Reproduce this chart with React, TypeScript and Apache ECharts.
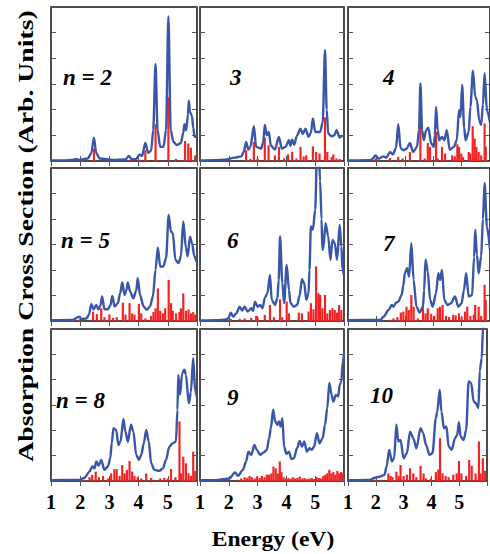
import React, { useEffect, useRef } from "react";
import * as echarts from "echarts";

type P = [number, number];

const panelLabels = ["n = 2", "3", "4", "n = 5", "6", "7", "n = 8", "9", "10"];
const xTitle = "Energy (eV)";
const yTitle = "Absorption Cross Section (Arb. Units)";
const xMin = 1;
const xMax = 6;
const yMin = 0;
const yMax = 6;

// n = 2
const blueN2: P[] = [[1.0,0.02],[1.41,0.02],[1.75,0.04],[1.84,0.08],[1.96,0.04],[2.26,0.1],[2.38,0.3],[2.47,0.91],[2.55,0.3],[2.67,0.1],[3.12,0.04],[3.55,0.06],[3.67,0.2],[3.76,0.07],[3.92,0.08],[4.03,0.25],[4.12,0.2],[4.23,0.7],[4.33,0.32],[4.43,0.4],[4.5,1.2],[4.58,3.78],[4.65,1.2],[4.74,0.55],[4.85,0.55],[4.94,1.2],[5.02,5.63],[5.1,1.2],[5.19,0.75],[5.31,0.62],[5.45,0.7],[5.53,1.1],[5.57,1.43],[5.63,1.2],[5.69,1.8],[5.72,2.35],[5.76,1.9],[5.83,1.75],[5.87,1.3],[5.92,0.94],[5.98,0.94]];
const redN2: P[] = [[2.47,0.48],[3.69,0.05],[4.03,0.05],[4.23,0.42],[4.58,1.43],[5.02,2.48],[5.28,0.08],[5.59,0.78],[5.7,0.68],[5.79,0.52],[5.94,0.22]];

// n = 3
const blueN3: P[] = [[1.0,0.02],[1.5,0.03],[1.86,0.05],[2.21,0.13],[2.43,0.18],[2.52,0.35],[2.6,0.74],[2.68,0.45],[2.75,0.55],[2.87,1.36],[2.95,0.55],[3.12,0.48],[3.19,0.7],[3.25,1.4],[3.32,1.0],[3.39,1.13],[3.46,0.6],[3.6,0.45],[3.74,0.94],[3.84,0.48],[3.97,0.55],[4.09,0.81],[4.14,0.6],[4.2,0.83],[4.27,0.63],[4.37,1.0],[4.49,1.26],[4.57,1.05],[4.66,1.26],[4.77,0.94],[4.85,1.1],[4.92,1.66],[5.0,1.13],[5.17,1.13],[5.26,1.5],[5.34,4.33],[5.4,2.0],[5.45,1.07],[5.57,0.96],[5.66,1.0],[5.74,1.2],[5.85,0.91],[5.95,1.0]];
const redN3: P[] = [[2.6,0.42],[2.75,0.08],[2.87,0.74],[3.0,0.1],[3.25,0.91],[3.38,0.61],[3.6,0.22],[3.74,0.55],[3.92,0.1],[4.06,0.26],[4.2,0.35],[4.35,0.1],[4.49,0.55],[4.6,0.18],[4.69,0.22],[4.92,0.57],[5.03,0.35],[5.15,0.29],[5.34,1.7],[5.42,0.35],[5.57,0.15],[5.63,0.26],[5.74,0.1],[5.85,0.08]];

// n = 4
const blueN4: P[] = [[1.0,0.02],[1.79,0.03],[1.88,0.1],[1.97,0.22],[2.08,0.09],[2.25,0.18],[2.35,0.13],[2.48,0.35],[2.58,0.26],[2.69,0.5],[2.77,1.43],[2.85,0.5],[2.95,0.42],[3.06,0.48],[3.18,0.7],[3.29,0.35],[3.43,0.55],[3.5,1.2],[3.55,3.02],[3.61,1.2],[3.67,0.81],[3.75,1.2],[3.83,1.3],[3.93,0.68],[4.02,0.55],[4.06,1.0],[4.1,2.11],[4.16,1.2],[4.21,0.81],[4.31,0.94],[4.39,0.81],[4.48,1.2],[4.58,0.44],[4.73,0.55],[4.83,0.81],[4.91,1.98],[4.96,1.72],[5.02,2.96],[5.09,1.3],[5.14,0.81],[5.25,1.13],[5.31,2.11],[5.4,3.52],[5.48,2.5],[5.54,2.37],[5.62,1.59],[5.69,1.4],[5.75,2.2],[5.81,3.42],[5.89,1.98],[6.0,1.5]];
const redN4: P[] = [[1.97,0.1],[2.48,0.12],[2.77,0.16],[2.92,0.1],[3.18,0.35],[3.55,1.59],[3.7,0.1],[3.81,0.7],[3.89,0.55],[4.1,1.13],[4.16,0.1],[4.31,0.55],[4.42,0.29],[4.67,0.22],[4.76,0.18],[4.85,0.65],[4.91,0.55],[4.99,0.29],[5.05,0.15],[5.25,0.35],[5.31,0.29],[5.39,1.36],[5.46,0.87],[5.52,0.55],[5.6,0.35],[5.69,0.22],[5.81,1.46],[5.85,0.55]];

// n = 5
const blueN5: P[] = [[1.0,0.03],[1.75,0.04],[1.96,0.17],[2.04,0.08],[2.21,0.1],[2.3,0.24],[2.38,0.67],[2.46,0.46],[2.55,0.63],[2.62,0.46],[2.69,0.6],[2.75,0.96],[2.83,0.46],[2.95,0.46],[3.03,0.6],[3.1,0.98],[3.18,0.57],[3.29,0.7],[3.37,1.1],[3.44,1.51],[3.52,1.02],[3.58,1.2],[3.63,1.51],[3.71,1.15],[3.82,0.89],[3.92,1.2],[3.97,1.68],[4.05,1.02],[4.17,0.57],[4.28,0.44],[4.39,0.57],[4.49,0.96],[4.58,2.01],[4.66,2.87],[4.74,2.14],[4.85,2.14],[4.94,2.46],[5.03,4.16],[5.11,3.5],[5.17,3.46],[5.26,2.4],[5.37,2.27],[5.45,2.54],[5.53,3.9],[5.62,2.87],[5.68,2.54],[5.76,3.31],[5.83,3.05],[5.91,2.54],[5.98,2.33]];
const redN5: P[] = [[1.96,0.06],[2.44,0.37],[2.57,0.27],[2.72,0.5],[2.83,0.15],[3.0,0.26],[3.12,0.12],[3.25,0.15],[3.46,0.72],[3.55,0.25],[3.69,0.7],[3.78,0.3],[3.86,0.25],[4.01,0.67],[4.09,0.3],[4.23,0.1],[4.43,0.2],[4.51,0.35],[4.58,0.5],[4.66,1.28],[4.74,0.4],[4.83,0.3],[4.91,0.5],[5.03,1.61],[5.11,0.7],[5.17,0.4],[5.28,0.3],[5.4,0.35],[5.45,0.5],[5.53,1.08],[5.62,0.4],[5.71,0.45],[5.79,0.3],[5.87,0.35],[5.94,0.25]];

// n = 6
const blueN6: P[] = [[1.0,0.02],[1.6,0.03],[1.86,0.05],[1.98,0.1],[2.07,0.33],[2.15,0.17],[2.26,0.3],[2.38,0.56],[2.46,0.41],[2.55,0.56],[2.66,0.37],[2.78,0.5],[2.84,0.4],[2.91,0.76],[3.0,0.56],[3.09,0.63],[3.17,0.5],[3.25,0.9],[3.34,1.09],[3.43,1.81],[3.49,0.83],[3.6,0.63],[3.69,0.89],[3.73,1.6],[3.78,3.32],[3.86,1.48],[3.92,0.7],[4.01,2.2],[4.09,1.22],[4.14,0.7],[4.26,0.56],[4.37,0.63],[4.46,1.0],[4.54,1.64],[4.62,1.48],[4.69,0.83],[4.77,1.09],[4.8,2.0],[4.85,3.71],[4.92,3.58],[5.0,4.36],[5.06,6.5],[5.12,6.8],[5.17,5.5],[5.22,4.0],[5.25,2.79],[5.28,2.85],[5.36,3.84],[5.45,3.32],[5.53,2.4],[5.6,3.18],[5.68,3.05],[5.76,2.4],[5.85,3.77],[5.91,2.92],[5.95,2.0],[6.0,1.8]];
const redN6: P[] = [[2.07,0.08],[2.38,0.08],[2.55,0.1],[2.78,0.12],[2.95,0.2],[3.0,0.12],[3.25,0.24],[3.43,0.63],[3.57,0.15],[3.78,0.85],[3.86,0.15],[4.01,0.76],[4.09,0.3],[4.43,0.33],[4.54,0.3],[4.77,0.37],[4.85,0.7],[4.94,0.46],[5.03,2.14],[5.11,1.09],[5.17,1.02],[5.25,0.5],[5.34,1.02],[5.42,0.3],[5.51,0.43],[5.6,0.5],[5.68,0.43],[5.76,0.33],[5.83,0.63],[5.91,0.43]];

// n = 7
const blueN7: P[] = [[1.0,0.03],[2.14,0.04],[2.25,0.17],[2.43,0.43],[2.54,0.63],[2.6,0.56],[2.69,0.72],[2.77,0.76],[2.89,1.02],[2.95,1.4],[3.0,1.87],[3.08,2.07],[3.15,1.74],[3.23,3.05],[3.31,1.61],[3.41,0.56],[3.52,0.33],[3.64,0.56],[3.68,1.2],[3.73,2.4],[3.81,1.94],[3.89,0.83],[3.98,0.56],[4.1,1.09],[4.18,1.87],[4.24,1.61],[4.31,2.0],[4.39,0.83],[4.5,0.63],[4.62,0.69],[4.77,0.96],[4.88,0.56],[5.0,0.69],[5.08,1.2],[5.16,1.87],[5.25,0.96],[5.37,1.02],[5.44,2.5],[5.48,3.58],[5.54,2.6],[5.6,1.87],[5.69,2.53],[5.75,4.0],[5.81,5.41],[5.89,3.71],[6.0,2.8]];
const redN7: P[] = [[2.48,0.05],[2.6,0.1],[2.74,0.15],[2.86,0.33],[2.95,0.37],[3.06,0.56],[3.14,0.43],[3.23,1.02],[3.31,0.56],[3.46,0.1],[3.64,0.7],[3.73,0.3],[3.81,0.5],[3.93,0.28],[4.04,0.2],[4.16,0.5],[4.24,0.56],[4.33,0.63],[4.45,0.2],[4.56,0.15],[4.7,0.24],[4.79,0.22],[4.91,0.3],[5.0,0.15],[5.12,0.37],[5.2,0.56],[5.31,0.2],[5.43,0.25],[5.48,0.63],[5.6,0.56],[5.69,0.2],[5.81,1.42],[5.85,0.83]];

// n = 8
const blueN8: P[] = [[1.0,0.03],[1.98,0.04],[2.15,0.13],[2.32,0.37],[2.41,0.57],[2.49,0.5],[2.55,0.77],[2.63,0.61],[2.72,0.83],[2.83,0.44],[2.95,0.57],[3.03,0.9],[3.08,1.5],[3.14,2.08],[3.23,2.02],[3.31,1.42],[3.38,1.55],[3.48,2.45],[3.55,1.95],[3.63,1.55],[3.74,2.22],[3.82,1.95],[3.92,1.03],[4.01,0.83],[4.09,1.03],[4.18,1.5],[4.26,2.02],[4.35,1.55],[4.43,0.7],[4.54,0.44],[4.71,0.4],[4.83,0.5],[4.94,0.83],[5.05,1.35],[5.17,1.49],[5.28,1.56],[5.33,2.8],[5.36,4.19],[5.42,3.4],[5.49,4.25],[5.57,4.39],[5.62,4.19],[5.72,3.07],[5.79,3.5],[5.87,4.85],[5.94,3.54],[6.0,3.3]];
const redN8: P[] = [[2.15,0.05],[2.32,0.15],[2.41,0.24],[2.53,0.37],[2.64,0.15],[2.78,0.2],[2.95,0.1],[3.06,0.3],[3.17,0.47],[3.25,0.47],[3.35,0.2],[3.44,0.63],[3.52,0.3],[3.6,0.43],[3.69,0.79],[3.78,0.37],[3.86,0.2],[3.97,0.15],[4.09,0.1],[4.26,0.3],[4.43,0.12],[4.54,0.05],[4.74,0.1],[4.88,0.12],[5.0,0.1],[5.11,0.47],[5.26,0.15],[5.4,2.35],[5.45,0.3],[5.53,0.96],[5.62,0.7],[5.71,0.3],[5.79,0.2],[5.87,1.16],[5.94,0.4]];

// n = 9
const blueN9: P[] = [[1.0,0.03],[1.5,0.03],[1.86,0.08],[2.03,0.1],[2.21,0.34],[2.32,0.21],[2.49,0.44],[2.6,0.77],[2.68,1.16],[2.78,1.03],[2.89,1.42],[2.97,1.23],[3.09,1.03],[3.21,1.13],[3.32,1.23],[3.4,1.69],[3.46,2.08],[3.54,2.81],[3.61,2.35],[3.69,2.22],[3.74,2.35],[3.8,2.15],[3.86,2.48],[3.92,1.36],[4.0,1.06],[4.09,1.16],[4.17,0.87],[4.26,0.9],[4.37,1.29],[4.46,1.58],[4.54,1.36],[4.62,1.56],[4.71,1.16],[4.8,1.29],[4.88,1.23],[4.96,1.35],[5.06,1.89],[5.15,1.49],[5.26,1.69],[5.34,2.22],[5.42,2.88],[5.49,3.87],[5.57,3.4],[5.63,3.14],[5.72,3.4],[5.8,3.34],[5.85,3.8],[5.91,3.93],[5.95,4.66],[6.0,5.0]];
const redN9: P[] = [[2.3,0.05],[2.43,0.1],[2.55,0.15],[2.64,0.12],[2.72,0.2],[2.8,0.15],[2.9,0.1],[2.98,0.18],[3.07,0.12],[3.15,0.2],[3.24,0.15],[3.32,0.25],[3.4,0.25],[3.48,0.3],[3.55,0.57],[3.63,0.5],[3.7,0.3],[3.77,0.77],[3.83,0.35],[3.9,0.15],[3.98,0.1],[4.07,0.12],[4.15,0.08],[4.22,0.15],[4.3,0.1],[4.38,0.12],[4.46,0.18],[4.55,0.1],[4.63,0.12],[4.72,0.08],[4.8,0.1],[4.88,0.12],[4.96,0.08],[5.05,0.15],[5.13,0.12],[5.2,0.1],[5.28,0.2],[5.35,0.25],[5.42,0.3],[5.49,0.44],[5.56,0.3],[5.63,0.35],[5.7,0.25],[5.77,0.4],[5.84,0.3],[5.9,0.35],[5.96,0.3]];

// n = 10
const blueN10: P[] = [[1.0,0.03],[1.79,0.04],[1.97,0.13],[2.14,0.17],[2.31,0.24],[2.39,0.57],[2.48,1.23],[2.58,0.77],[2.66,0.9],[2.74,2.22],[2.81,1.56],[2.89,1.62],[3.0,0.9],[3.12,1.1],[3.23,1.95],[3.35,1.69],[3.46,1.29],[3.61,2.08],[3.7,1.9],[3.81,1.42],[3.93,1.03],[4.04,1.1],[4.16,2.48],[4.21,2.74],[4.3,3.6],[4.36,2.74],[4.45,2.08],[4.54,2.15],[4.62,1.36],[4.73,1.23],[4.85,1.69],[4.93,1.82],[4.99,2.32],[5.05,1.75],[5.16,1.62],[5.25,2.02],[5.34,3.93],[5.43,3.87],[5.52,3.14],[5.6,3.07],[5.69,2.88],[5.74,4.35],[5.81,4.85],[5.86,6.1],[6.0,7.0]];
const redN10: P[] = [[1.97,0.05],[2.2,0.05],[2.45,0.3],[2.53,0.2],[2.6,0.15],[2.74,0.37],[2.82,0.2],[2.89,0.63],[3.0,0.2],[3.12,0.25],[3.23,0.5],[3.35,0.3],[3.46,0.15],[3.61,0.6],[3.72,0.3],[3.81,0.1],[3.98,0.1],[4.16,0.35],[4.25,0.45],[4.31,1.69],[4.4,0.3],[4.51,0.2],[4.62,0.15],[4.79,0.25],[4.91,0.3],[4.99,0.79],[5.08,0.3],[5.25,0.2],[5.36,0.83],[5.45,0.6],[5.59,0.3],[5.71,1.56],[5.77,0.3],[5.85,0.9],[5.93,0.4]];

const blues = [blueN2, blueN3, blueN4, blueN5, blueN6, blueN7, blueN8, blueN9, blueN10];
const reds = [redN2, redN3, redN4, redN5, redN6, redN7, redN8, redN9, redN10];

const SERIF = "Liberation Serif";
const BLUE = "#3a56a8";
const RED = "#f22424";
const TICK = "#555";

const colLeft = [51, 200, 348];
const colWidth = [146, 144, 146];
const rowTop = [7, 168, 329];
const rowHeight = [154, 153, 152];
const labelPos: [number, number][] = [
  [63, 79], [230, 79], [383, 79],
  [61, 242], [227, 242], [383, 245],
  [56, 402], [227, 399], [370, 397],
];

function buildOption() {
  const grid: any[] = [];
  const xAxis: any[] = [];
  const yAxis: any[] = [];
  const series: any[] = [];
  const graphic: any[] = [];
  for (let i = 0; i < 9; i++) {
    const r = Math.floor(i / 3);
    const c = i % 3;
    grid.push({
      left: colLeft[c], top: rowTop[r], width: colWidth[c], height: rowHeight[r],
      show: true, borderColor: "#111", borderWidth: 1.5, backgroundColor: "transparent",
    });
    const tick = { show: true, inside: true, length: 5, lineStyle: { color: TICK, width: 1 } };
    for (const pos of ["bottom", "top"]) {
      xAxis.push({
        gridIndex: i, type: "value", min: xMin, max: xMax, interval: 1, position: pos,
        axisLine: { show: false }, axisTick: tick, splitLine: { show: false },
        axisLabel: {
          show: pos === "bottom" && r === 2,
          formatter: (v: number) => (v <= 5 ? String(v) : ""),
          fontFamily: SERIF, fontWeight: "bold", fontSize: 20, color: "#000", margin: 11,
        },
      });
    }
    for (const pos of ["left", "right"]) {
      yAxis.push({
        gridIndex: i, type: "value", min: yMin, max: yMax, interval: 1, position: pos,
        axisLine: { show: false }, axisTick: tick, splitLine: { show: false },
        axisLabel: { show: false },
      });
    }
    series.push({
      type: "bar", xAxisIndex: 2 * i, yAxisIndex: 2 * i, data: reds[i],
      barWidth: 2.2, itemStyle: { color: RED }, z: 2, silent: true,
    });
    series.push({
      type: "line", xAxisIndex: 2 * i, yAxisIndex: 2 * i, data: blues[i],
      symbol: "none", showSymbol: false, smooth: 0.3, smoothMonotone: "x",
      lineStyle: { color: BLUE, width: 2.4 }, z: 3, silent: true, clip: true,
    });
    graphic.push({
      type: "text", left: labelPos[i][0], top: labelPos[i][1] - 13, silent: true,
      style: {
        text: panelLabels[i], fontFamily: SERIF, fontWeight: "bold", fontStyle: "italic",
        fontSize: 23, fill: "#000",
      },
    });
  }
  graphic.push({
    type: "text", x: 273, y: 540, scaleX: 1.18, silent: true,
    style: {
      text: xTitle, fontFamily: SERIF, fontWeight: "bold", fontSize: 20, fill: "#000",
      align: "center", verticalAlign: "middle",
    },
  });
  graphic.push({
    type: "text", x: 26, y: 236, rotation: Math.PI / 2, scaleX: 1.26, silent: true,
    style: {
      text: yTitle, fontFamily: SERIF, fontWeight: "bold", fontSize: 22, fill: "#000",
      align: "center", verticalAlign: "middle",
    },
  });
  return { animation: false, backgroundColor: "#fff", grid, xAxis, yAxis, series, graphic };
}

export default function App() {
  const ref = useRef<HTMLDivElement>(null);
  useEffect(() => {
    if (!ref.current) return;
    const chart = echarts.init(ref.current, undefined, { renderer: "svg" });
    chart.setOption(buildOption());
    return () => chart.dispose();
  }, []);
  return (
    <div
      ref={ref}
      style={{ position: "fixed", left: 0, top: 0, width: 490, height: 554, background: "#fff" }}
    />
  );
}
